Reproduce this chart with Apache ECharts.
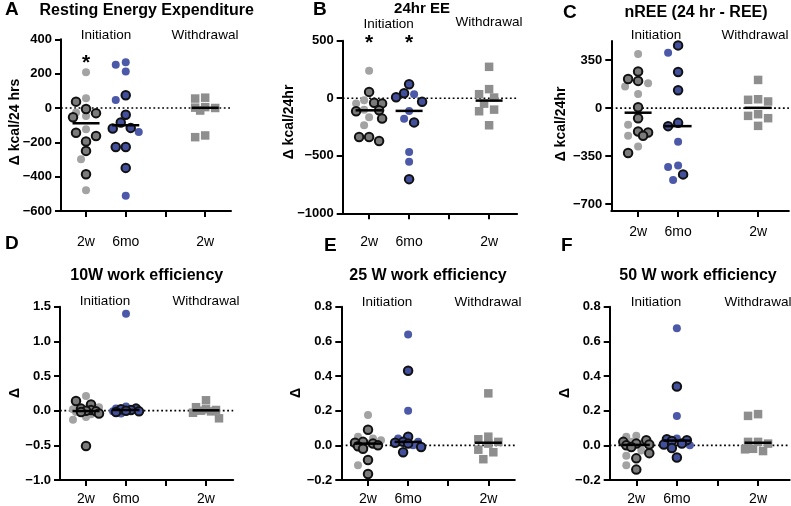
<!DOCTYPE html>
<html><head><meta charset="utf-8">
<script src="https://cdn.jsdelivr.net/npm/echarts@6/dist/echarts.min.js"></script>
<style>html,body{margin:0;padding:0;background:#fff}#c{width:791px;height:506px}</style>
</head><body><div id="c"></div>
<script>
// ---------- data ----------
const categories = ['2w', '6mo', '', '2w'];
const groupLabels = ['Initiation', 'Withdrawal'];
const panelLetters = ['A', 'B', 'C', 'D', 'E', 'F'];
const panelTitles = ['Resting Energy Expenditure', '24hr EE', 'nREE (24 hr - REE)', '10W work efficiency', '25 W work efficiency', '50 W work efficiency'];
const yAxisNames = ['\u0394 kcal/24 hrs', '\u0394 kcal/24hr', '\u0394 kcal/24hr', '\u0394', '\u0394', '\u0394'];

const yTicksA = [-600, -400, -200, 0, 200, 400];
const yTicksB = [-1000, -500, 0, 500];
const yTicksC = [-700, -350, 0, 350];
const yTicksD = [-1, -0.5, 0, 0.5, 1, 1.5];
const yTicksE = [-0.2, 0, 0.2, 0.4, 0.6, 0.8];
const yTicksF = [-0.2, 0, 0.2, 0.4, 0.6, 0.8];

// A: Resting Energy Expenditure
const A_2w_grey = [208, 56, -27, -47, -124, -299, -479];
const A_2w_dark = [37, -6, -30, -54, -144, -163, -195, -250, -386];
const A_6mo_blue = [266, 252, 213, 47, -140, -511];
const A_6mo_dark = [74, -39, -85, -116, -120, -227, -227, -349];
const A_wd = [60, 55, 5, 2, 0, -15, -160, -170];
// B: 24hr EE
const B_2w_grey = [238, -17, -45, -100, -165, -235];
const B_2w_dark = [55, -40, -45, -105, -113, -177, -337, -337, -372];
const B_6mo_blue = [34, -110, -178, -468, -552];
const B_6mo_dark = [121, 43, 8, -30, -210, -703];
const B_wd = [273, 79, 35, 6, -47, -99, -113, -235];
// C: nREE
const C_2w_grey = [395, 182, 158, 104, -121, -201, -279];
const C_2w_dark = [267, 213, 199, 7, -73, -170, -177, -201, -327];
const C_6mo_blue = [405, -245, -418, -429, -524];
const C_6mo_dark = [458, 264, 131, -107, -131, -483];
const C_wd = [206, 65, 61, 49, -44, -56, -73, -129];
// D: 10W work efficiency
const D_2w_grey = [0.21, 0.05, 0.02, -0.02, -0.05, -0.09, -0.13];
const D_2w_dark = [0.14, 0.09, 0.03, 0.01, 0.0, -0.01, -0.02, -0.04, -0.51];
const D_6mo_blue = [1.40, 0.06, 0.03, -0.01, -0.04];
const D_6mo_dark = [0.03, 0.02, 0.01, 0.0, -0.01, -0.02];
const D_wd = [0.15, 0.05, 0.02, 0.01, 0.0, -0.01, -0.03, -0.11];
// E: 25 W work efficiency
const E_2w_grey = [0.175, 0.05, 0.04, 0.03, 0.01, -0.115];
const E_2w_dark = [0.09, 0.02, 0.015, 0.01, 0.0, -0.005, -0.02, -0.085, -0.165];
const E_6mo_blue = [0.64, 0.20, 0.04, 0.02, 0.0];
const E_6mo_dark = [0.43, 0.05, 0.02, 0.015, 0.01, -0.01, -0.04];
const E_wd = [0.30, 0.05, 0.035, 0.02, 0.01, -0.025, -0.04, -0.08];
// F: 50 W work efficiency
const F_2w_grey = [0.055, 0.05, 0.02, 0.01, -0.03, -0.06, -0.115];
const F_2w_dark = [0.03, 0.02, 0.01, 0.005, 0.0, -0.01, -0.045, -0.075, -0.14];
const F_6mo_blue = [0.675, 0.17, 0.04, 0.0];
const F_6mo_dark = [0.34, 0.035, 0.03, 0.025, 0.01, 0.005, -0.015, -0.07];
const F_wd = [0.18, 0.17, 0.02, 0.02, 0.01, -0.02, -0.023, -0.033];

const panelData = [
  {g2: A_2w_grey, d2: A_2w_dark, b6: A_6mo_blue, d6: A_6mo_dark, wd: A_wd, ticks: yTicksA},
  {g2: B_2w_grey, d2: B_2w_dark, b6: B_6mo_blue, d6: B_6mo_dark, wd: B_wd, ticks: yTicksB},
  {g2: C_2w_grey, d2: C_2w_dark, b6: C_6mo_blue, d6: C_6mo_dark, wd: C_wd, ticks: yTicksC},
  {g2: D_2w_grey, d2: D_2w_dark, b6: D_6mo_blue, d6: D_6mo_dark, wd: D_wd, ticks: yTicksD},
  {g2: E_2w_grey, d2: E_2w_dark, b6: E_6mo_blue, d6: E_6mo_dark, wd: E_wd, ticks: yTicksE},
  {g2: F_2w_grey, d2: F_2w_dark, b6: F_6mo_blue, d6: F_6mo_dark, wd: F_wd, ticks: yTicksF}
];
const significance = [[1], [1, 2], [], [], [], []];

// ---------- layout & style ----------
const FONT = '"Liberation Sans", Arial, Helvetica, sans-serif';
const layouts = [
  {left: 61, top: 39.3, width: 170, height: 171.7, xMin: 0.37, xMax: 4.65, yMin: -600, yMax: 400, dec: 0, xMargin: 24,
   letter: [5, 10], title: [146.7, 11], tSize: 16, init: [106, 35], wdl: [205, 35], yName: [15, 122], starY: 58},
  {left: 342.7, top: 40.7, width: 174.4, height: 172.6, xMin: 0.34, xMax: 4.7, yMin: -1000, yMax: 500, dec: 0, xMargin: 22,
   letter: [313, 10], title: [422, 9], tSize: 15, init: [388.7, 24], wdl: [489, 22.5], yName: [289, 122], starY: 38},
  {left: 611.3, top: 41, width: 177.6, height: 170, xMin: 0.33, xMax: 4.77, yMin: -750, yMax: 490, dec: 0, xMargin: 14,
   letter: [563, 13], title: [696, 13], tSize: 16, init: [656, 35], wdl: [755, 35], yName: [561, 124]},
  {left: 60, top: 306.7, width: 173.2, height: 173.3, xMin: 0.35, xMax: 4.68, yMin: -1, yMax: 1.5, dec: 1, xMargin: 12,
   letter: [5, 244], title: [146.7, 276], tSize: 16, init: [105, 301], wdl: [206, 301], yName: [15, 393]},
  {left: 341.3, top: 306.7, width: 173.5, height: 173.3, xMin: 0.334, xMax: 4.66, yMin: -0.2, yMax: 0.8, dec: 1, xMargin: 12,
   letter: [324, 246], title: [428, 276], tSize: 16, init: [387, 302], wdl: [488, 302], yName: [295.7, 393]},
  {left: 609.7, top: 306.7, width: 180, height: 173.3, xMin: 0.345, xMax: 4.78, yMin: -0.2, yMax: 0.8, dec: 1, xMargin: 12,
   letter: [561, 246], title: [698, 276], tSize: 16, init: [656, 302], wdl: [758, 302], yName: [564.7, 393]}
];
const STY = {
  grey:     {symbol: 'circle', size: 8,   color: '#a3a3a3', border: null},
  greyDark: {symbol: 'circle', size: 8.5, color: '#7b7b7b', border: '#111'},
  blue:     {symbol: 'circle', size: 8,   color: '#4b59a8', border: null},
  blueDark: {symbol: 'circle', size: 8.5, color: '#414f9c', border: '#111'},
  square:   {symbol: 'rect',   size: 8.5, color: '#8e8e8e', border: null}
};

// ---------- helpers ----------
function median(arr) {
  const s = arr.slice().sort((a, b) => a - b);
  const n = s.length;
  return n % 2 ? s[(n - 1) / 2] : (s[n / 2 - 1] + s[n / 2]) / 2;
}
// beeswarm layout (pixel collision) -> offsets in axis units
function swarm(groups, center, lay) {
  const ky = lay.height / (lay.yMax - lay.yMin);
  const kx = lay.width / (lay.xMax - lay.xMin);
  const items = [];
  groups.forEach((arr, gi) => arr.forEach(v => items.push({v, gi})));
  items.sort((a, b) => b.v - a.v);
  const slots = [0, -5, 5, -10, 10, -13, 13];
  const D = 9;
  const placed = [];
  const out = groups.map(() => []);
  items.forEach(it => {
    const yp = it.v * ky;
    let best = 0, bestScore = -1;
    for (const s of slots) {
      let md = Infinity;
      for (const p of placed) { const d = Math.hypot(p.x - s, p.y - yp); if (d < md) md = d; }
      if (md >= D) { best = s; break; }
      if (md > bestScore) { bestScore = md; best = s; }
    }
    placed.push({x: best, y: yp});
    out[it.gi].push([center + best / kx, it.v]);
  });
  return out;
}
function fmt(v, dec) {
  const s = Math.abs(v).toFixed(dec);
  return (v < -1e-9 ? '\u2212' : '') + s;
}
function scatter(i, data, st, z) {
  return {
    type: 'scatter', xAxisIndex: i, yAxisIndex: i, data: data, symbol: st.symbol, symbolSize: st.size,
    itemStyle: {color: st.color, borderColor: st.border || st.color, borderWidth: st.border ? 2 : 0, opacity: 1},
    z: z, silent: true, clip: false, animation: false
  };
}

// ---------- build option ----------
const grid = [], xAxis = [], yAxis = [], series = [], graphic = [];
panelData.forEach((pd, i) => {
  const L = layouts[i];
  grid.push({left: L.left, top: L.top, width: L.width, height: L.height});
  xAxis.push({
    type: 'value', gridIndex: i, min: L.xMin, max: L.xMax,
    axisLine: {show: true, onZero: false, lineStyle: {color: '#000', width: 2}},
    axisTick: {show: true, customValues: [1, 2, 3, 4], length: 6, lineStyle: {color: '#000', width: 2}},
    axisLabel: {show: true, customValues: [1, 2, 3, 4], margin: L.xMargin, color: '#000', fontSize: 14, fontFamily: FONT,
      formatter: v => categories[Math.round(v) - 1] || ''},
    splitLine: {show: false}
  });
  yAxis.push({
    type: 'value', gridIndex: i, min: L.yMin, max: L.yMax,
    axisLine: {show: true, onZero: false, lineStyle: {color: '#000', width: 2}},
    axisTick: {show: true, customValues: pd.ticks, length: 6, lineStyle: {color: '#000', width: 2}},
    axisLabel: {show: true, customValues: pd.ticks, margin: 9, color: '#000', fontSize: 13, fontWeight: 'bold', fontFamily: FONT,
      formatter: v => fmt(v, L.dec)},
    splitLine: {show: false}
  });
  // zero reference line (dotted)
  series.push({
    type: 'custom', xAxisIndex: i, yAxisIndex: i, data: [[L.xMin, 0]], z: 1, silent: true, animation: false, clip: false,
    renderItem: (params, api) => {
      const cs = params.coordSys;
      const y = api.coord([L.xMin, 0])[1];
      return {type: 'line', shape: {x1: cs.x, y1: y, x2: cs.x + cs.width, y2: y},
        style: {stroke: '#000', lineWidth: 1.7, lineDash: [1.8, 2.6]}};
    }
  });
  const c2 = swarm([pd.g2, pd.d2], 1, L);
  const c6 = swarm([pd.b6, pd.d6], 2, L);
  const cw = swarm([pd.wd], 4, L);
  series.push(scatter(i, c2[0], STY.grey, 2));
  series.push(scatter(i, c2[1], STY.greyDark, 3));
  series.push(scatter(i, c6[0], STY.blue, 2));
  series.push(scatter(i, c6[1], STY.blueDark, 3));
  series.push(scatter(i, cw[0], STY.square, 2));
  // medians
  series.push({
    type: 'custom', xAxisIndex: i, yAxisIndex: i, z: 5, silent: true, animation: false, clip: false,
    data: [[1, median(pd.g2.concat(pd.d2))], [2, median(pd.b6.concat(pd.d6))], [4, median(pd.wd)]],
    renderItem: (params, api) => {
      const p = api.coord([api.value(0), api.value(1)]);
      return {type: 'line', shape: {x1: p[0] - 13.5, y1: p[1], x2: p[0] + 13.5, y2: p[1]},
        style: {stroke: '#000', lineWidth: 2.5}};
    }
  });
  // texts
  const kx = L.width / (L.xMax - L.xMin);
  graphic.push({type: 'text', x: L.letter[0], y: L.letter[1], silent: true,
    style: {text: panelLetters[i], font: 'bold 19px ' + FONT, fill: '#000', align: 'left', verticalAlign: 'middle'}});
  graphic.push({type: 'text', x: L.title[0], y: L.title[1], silent: true,
    style: {text: panelTitles[i], font: 'bold ' + L.tSize + 'px ' + FONT, fill: '#000', align: 'center', verticalAlign: 'middle'}});
  graphic.push({type: 'text', x: L.init[0], y: L.init[1], silent: true,
    style: {text: groupLabels[0], font: '13.5px ' + FONT, fill: '#000', align: 'center', verticalAlign: 'middle'}});
  graphic.push({type: 'text', x: L.wdl[0], y: L.wdl[1], silent: true,
    style: {text: groupLabels[1], font: '13.5px ' + FONT, fill: '#000', align: 'center', verticalAlign: 'middle'}});
  graphic.push({type: 'text', x: L.yName[0], y: L.yName[1], rotation: Math.PI / 2, silent: true,
    style: {text: yAxisNames[i], font: 'bold 14px ' + FONT, fill: '#000', align: 'center', verticalAlign: 'middle'}});
  significance[i].forEach(col => {
    graphic.push({type: 'text', x: L.left + (col - L.xMin) * kx, y: L.starY + 5, silent: true,
      style: {text: '*', font: 'bold 21px ' + FONT, fill: '#000', align: 'center', verticalAlign: 'middle'}});
  });
});

const chart = echarts.init(document.getElementById('c'), null, {renderer: 'canvas'});
chart.setOption({
  backgroundColor: '#fff', animation: false,
  grid: grid, xAxis: xAxis, yAxis: yAxis, series: series, graphic: graphic
});
</script></body></html>
